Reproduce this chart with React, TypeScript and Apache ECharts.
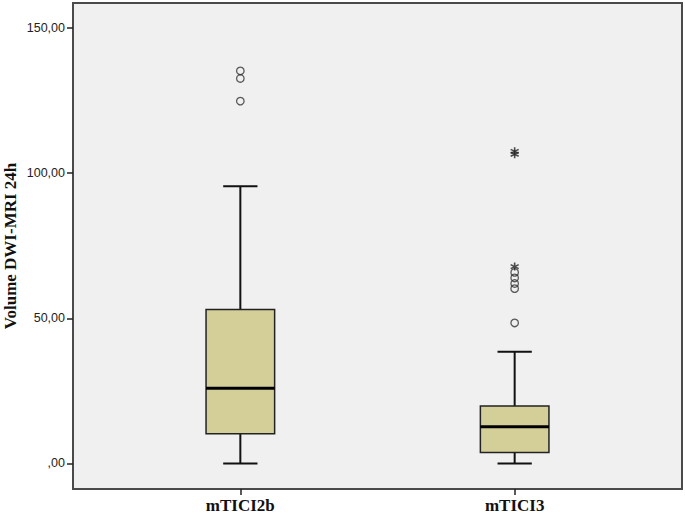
import React, { useEffect, useRef } from "react";
import * as echarts from "echarts";

const categories = ["mTICI2b", "mTICI3"];
const whiskerLow = [0, 0];
const quartile1 = [10.2, 3.8];
const medians = [25.9, 12.6];
const quartile3 = [53.0, 19.8];
const whiskerHigh = [95.5, 38.5];
const outliers2b = [135.2, 132.6, 124.8];
const outliers3 = [48.4, 60.2, 62.0, 63.9, 65.8];
const extremes3 = [106.5, 107.5, 67.8];
const yTicks = [0, 50, 100, 150];

const fmt = (v: number) => {
  const s = v.toFixed(2).replace(".", ",");
  return s.startsWith("0,") ? s.slice(1) : s;
};

export default function App() {
  const ref = useRef<HTMLDivElement>(null);
  useEffect(() => {
    if (!ref.current) return;
    const chart = echarts.init(ref.current, null, { renderer: "svg" });
    const boxData = categories.map((_, i) => [
      i + 1,
      whiskerLow[i],
      quartile1[i],
      medians[i],
      quartile3[i],
      whiskerHigh[i],
    ]);
    const lineColor = "#111";
    chart.setOption({
      animation: false,
      grid: {
        left: 73,
        right: 3,
        top: 3,
        bottom: 28,
        outerBoundsMode: "none",
        containLabel: false,
        show: true,
        backgroundColor: "#F0F0F0",
        borderColor: "#4a4a4a",
        borderWidth: 2,
      },
      xAxis: {
        type: "value",
        min: 0.39,
        max: 2.61,
        splitLine: { show: false },
        axisLine: { show: false, onZero: false },
        axisTick: {
          show: true,
          customValues: [1, 2],
          length: 6,
          lineStyle: { color: "#222", width: 1.5 },
        },
        axisLabel: {
          customValues: [1, 2],
          formatter: (v: number) => categories[Math.round(v) - 1] ?? "",
          margin: 8,
          fontFamily: "Liberation Serif",
          fontWeight: "bold",
          fontSize: 17,
          color: "#111",
        },
      },
      yAxis: {
        type: "value",
        min: -8.8,
        max: 158.6,
        splitLine: { show: false },
        axisLine: { show: false, onZero: false },
        axisTick: {
          show: true,
          customValues: yTicks,
          length: 6,
          lineStyle: { color: "#222", width: 1.5 },
        },
        axisLabel: {
          customValues: yTicks,
          formatter: (v: number) => fmt(v),
          margin: 8,
          fontFamily: "Liberation Sans",
          fontSize: 12.5,
          color: "#222",
        },
        name: "Volume DWI-MRI 24h",
        nameLocation: "middle",
        nameGap: 54,
        nameMoveOverlap: false,
        nameTextStyle: {
          fontFamily: "Liberation Serif",
          fontWeight: "bold",
          fontSize: 17,
          color: "#111",
        },
      },
      series: [
        {
          type: "custom",
          data: boxData,
          encode: { x: 0, y: [1, 2, 3, 4, 5] },
          renderItem: (params: any, api: any) => {
            const x = api.value(0);
            const lo = api.coord([x, api.value(1)]);
            const q1 = api.coord([x, api.value(2)]);
            const md = api.coord([x, api.value(3)]);
            const q3 = api.coord([x, api.value(4)]);
            const hi = api.coord([x, api.value(5)]);
            const band = api.size([1, 0])[0];
            const bw = band * 0.25;
            const cw = band * 0.125;
            const cx = lo[0];
            const ls = { stroke: lineColor, lineWidth: 2 };
            return {
              type: "group",
              children: [
                { type: "line", shape: { x1: cx, y1: hi[1], x2: cx, y2: q3[1] }, style: ls },
                { type: "line", shape: { x1: cx, y1: q1[1], x2: cx, y2: lo[1] }, style: ls },
                { type: "line", shape: { x1: cx - cw / 2, y1: hi[1], x2: cx + cw / 2, y2: hi[1] }, style: ls },
                { type: "line", shape: { x1: cx - cw / 2, y1: lo[1], x2: cx + cw / 2, y2: lo[1] }, style: ls },
                {
                  type: "rect",
                  shape: { x: cx - bw / 2, y: q3[1], width: bw, height: q1[1] - q3[1] },
                  style: { fill: "#D4CF98", stroke: "#222", lineWidth: 1.5 },
                },
                {
                  type: "line",
                  shape: { x1: cx - bw / 2, y1: md[1], x2: cx + bw / 2, y2: md[1] },
                  style: { stroke: "#000", lineWidth: 3 },
                },
              ],
            };
          },
        },
        {
          type: "scatter",
          data: [
            ...outliers2b.map((v) => [1, v]),
            ...outliers3.map((v) => [2, v]),
          ],
          symbol: "circle",
          symbolSize: 7.5,
          itemStyle: { color: "rgba(0,0,0,0)", borderColor: "#333", borderWidth: 1.3 },
        },
        {
          type: "scatter",
          data: extremes3.map((v) => [2, v]),
          symbol: "path://M5 0 L5 10 M0.7 2.5 L9.3 7.5 M0.7 7.5 L9.3 2.5",
          symbolSize: 8,
          itemStyle: { color: "rgba(0,0,0,0)", borderColor: "#222", borderWidth: 1.6 },
        },
      ],
    });
    return () => chart.dispose();
  }, []);
  return <div ref={ref} style={{ width: 685, height: 517, position: "absolute", left: 0, top: 0 }} />;
}
